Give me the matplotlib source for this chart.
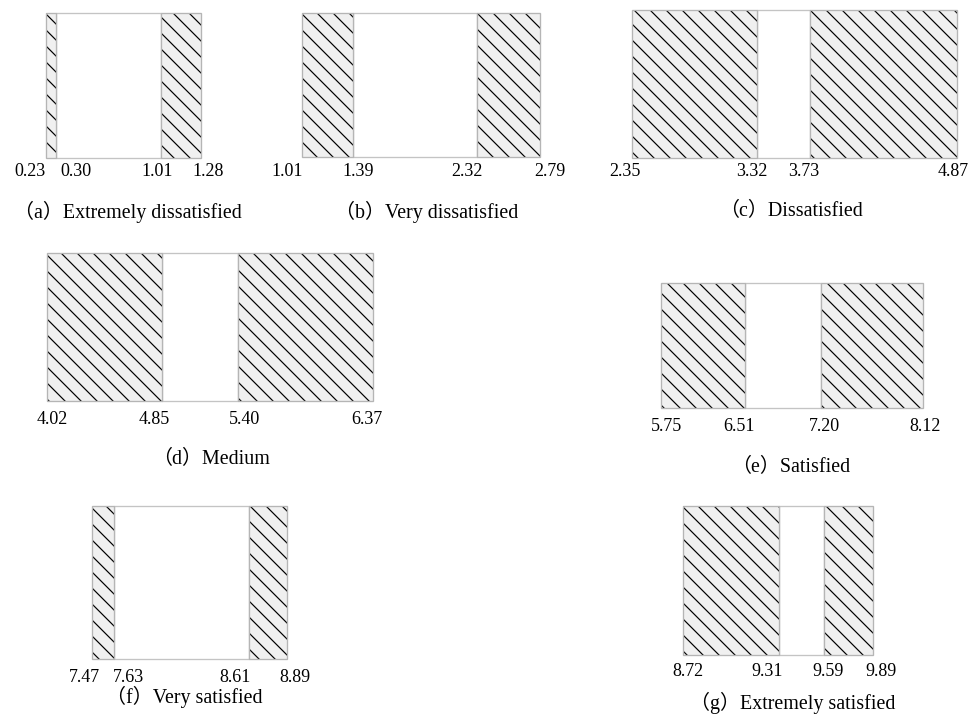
import matplotlib
matplotlib.use("Agg")
import matplotlib.pyplot as plt

W, H = 968, 716
DPI = 96

# grade intervals: outer bounds and inner (core) bounds
categories = ["Extremely dissatisfied", "Very dissatisfied", "Dissatisfied",
              "Medium", "Satisfied", "Very satisfied", "Extremely satisfied"]
letters = ["a", "b", "c", "d", "e", "f", "g"]
lower_outer = [0.23, 1.01, 2.35, 4.02, 5.75, 7.47, 8.72]
lower_inner = [0.30, 1.39, 3.32, 4.85, 6.51, 7.63, 9.31]
upper_inner = [1.01, 2.32, 3.73, 5.40, 7.20, 8.61, 9.59]
upper_outer = [1.28, 2.79, 4.87, 6.37, 8.12, 8.89, 9.89]

# layout (pixels): panel box x0, y0, x1, y1
boxes = [(46, 13, 201, 158), (302, 13, 540, 157), (632, 10, 957, 158),
         (47, 253, 373, 401), (661, 283, 923, 408),
         (92, 506, 287, 659), (683, 506, 873, 655)]
# horizontal nudge of each bound label, pixels
nudges = [(-16, 20, -4, 7), (-15, 5, -10, 10), (-7, -5, -6, -4),
          (5, -8, 6, -6), (5, -6, 3, 2), (-8, 15, -13, 8), (5, -12, 4, 8)]
label_gap = [14, 15, 14, 18, 19, 18, 17]
captions_xy = [(128, 212), (427, 212), (791, 212), (211, 460),
               (791, 468), (184, 697), (793, 703)]

serif = ["Liberation Serif", "Noto Sans CJK SC", "DejaVu Sans"]
HATCH = chr(92) * 2   # "\" lines, ~16 px apart at 96 dpi
plt.rcParams["hatch.linewidth"] = 0.9

fig = plt.figure(figsize=(W / DPI, H / DPI), dpi=DPI)

for i in range(len(categories)):
    x0, y0, x1, y1 = boxes[i]
    ax = fig.add_axes([x0 / W, 1 - y1 / H, (x1 - x0) / W, (y1 - y0) / H])
    ax.set_xlim(lower_outer[i], upper_outer[i])
    ax.set_ylim(0, 1)
    ax.axis("off")

    bounds = [lower_outer[i], lower_inner[i], upper_inner[i], upper_outer[i]]

    # middle white part
    ax.axvspan(bounds[1], bounds[2], facecolor="white", edgecolor="#c4c4c4",
               linewidth=1.0, clip_on=False)
    # hatched sides
    for a, b in [(bounds[0], bounds[1]), (bounds[2], bounds[3])]:
        ax.axvspan(a, b, facecolor="#f0f0f0", edgecolor="black", hatch=HATCH,
                   linewidth=0, clip_on=False)
        ax.axvspan(a, b, fill=False, edgecolor="#b5b5b5", linewidth=1.0,
                   clip_on=False)

    for v, dx in zip(bounds, nudges[i]):
        ax.annotate(f"{v:.2f}", xy=(v, 0), xycoords=("data", "axes fraction"),
                    xytext=(dx, -label_gap[i]), textcoords="offset pixels",
                    ha="center", va="center", fontsize=13.5, family=serif)

    cx, cy = captions_xy[i]
    fig.text(cx / W, 1 - cy / H, f"（{letters[i]}）{categories[i]}",
             ha="center", va="center", fontsize=15, family=serif)

fig.savefig("out.png", dpi=DPI)
